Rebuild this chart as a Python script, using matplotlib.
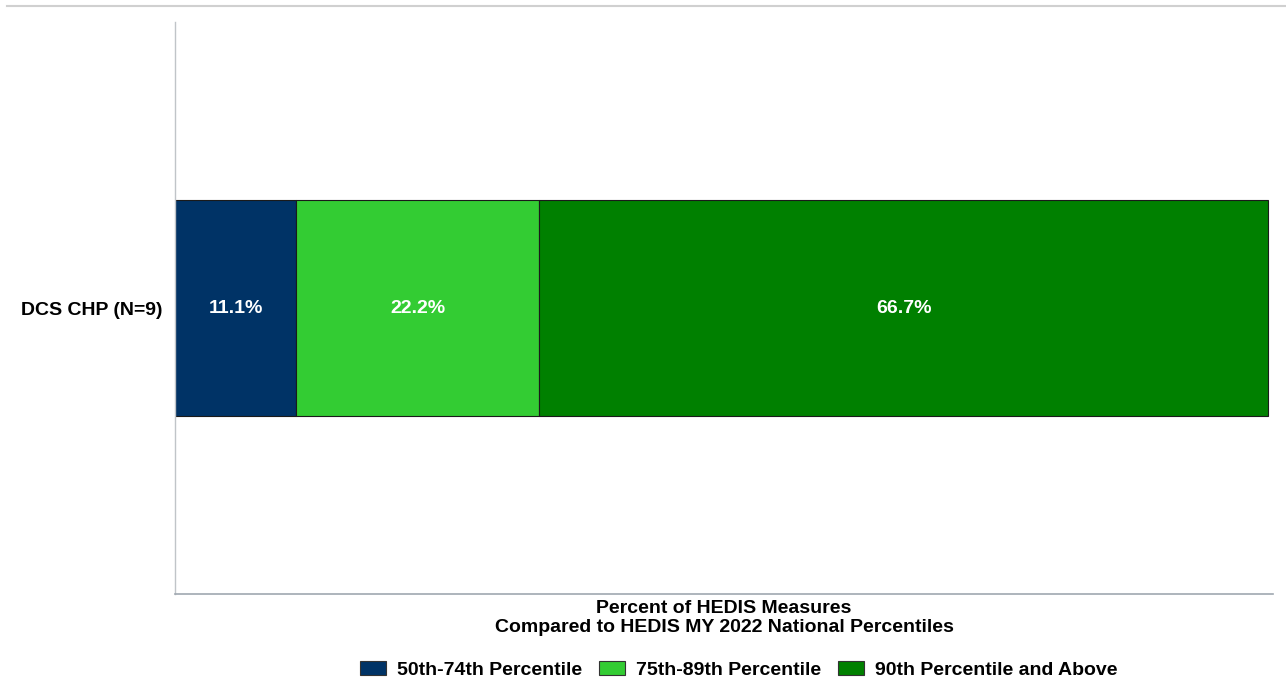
import matplotlib.pyplot as plt
from matplotlib.patches import Patch
from matplotlib.lines import Line2D

plt.rcParams['font.family'] = ['Liberation Sans', 'DejaVu Sans']

category = 'DCS CHP (N=9)'
series = ['50th-74th Percentile', '75th-89th Percentile', '90th Percentile and Above']
values = [11.1, 22.2, 66.7]
colors = ['#003366', '#33CC33', '#008000']

fig = plt.figure(figsize=(12.86, 6.92), dpi=100)
ax = fig.add_axes([0.1361, 0.1416, 0.9899 - 0.1361, 0.9682 - 0.1416])

left = 0
for v, c in zip(values, colors):
    ax.barh([0], [v], left=left, height=0.376, color=c, edgecolor='#1a1a1a', linewidth=0.8)
    ax.text(left + v / 2, 0, f'{v:.1f}%', ha='center', va='center',
            color='white', fontsize=14, fontweight='bold')
    left += v

ax.set_xlim(0, 100.45)
ax.set_ylim(-0.5, 0.5)
ax.set_yticks([0])
ax.set_yticklabels([category], fontsize=14, fontweight='bold')
ax.tick_params(axis='y', length=0, pad=9)
ax.set_xticks([])
for s in ['top', 'right']:
    ax.spines[s].set_visible(False)
ax.spines['left'].set_color('#c0c4c8')
ax.spines['bottom'].set_color('#a0a8b0')
ax.spines['left'].set_linewidth(1.0)
ax.spines['bottom'].set_linewidth(1.2)

ax.set_xlabel('Percent of HEDIS Measures\nCompared to HEDIS MY 2022 National Percentiles',
              fontsize=14, fontweight='bold', labelpad=4, linespacing=1.2)

# thin rule across the top of the figure
fig.add_artist(Line2D([7 / 1286, 1], [1 - 6 / 692, 1 - 6 / 692], color='#d0d0d0', linewidth=1.5))

handles = [Patch(facecolor=c, edgecolor='#333333', linewidth=0.8) for c in colors]
fig.legend(handles, series, loc='center', bbox_to_anchor=(739 / 1286, 1 - 670 / 692),
           ncol=3, frameon=False, prop={'weight': 'bold', 'size': 14},
           handlelength=1.34, handleheight=0.77, handletextpad=0.57, columnspacing=0.87)

fig.savefig('out.png', dpi=100)
